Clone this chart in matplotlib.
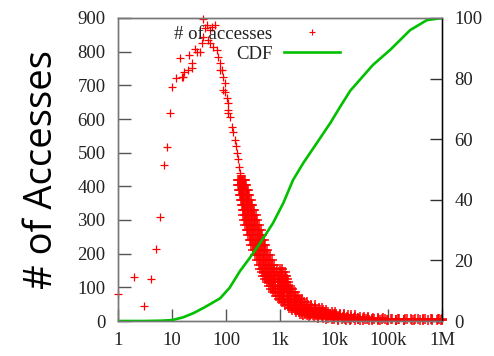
import numpy as np
import matplotlib
matplotlib.use("Agg")
from matplotlib import pyplot as plt
from matplotlib.ticker import LogLocator, FixedLocator, FixedFormatter, NullFormatter

# sparse points (left side and peak)
peak_x = [1, 2, 3, 4, 5, 6, 7, 8, 9, 10, 12, 14, 15, 16, 17, 20, 21, 23, 23,
          27, 29, 33, 36, 37, 37, 40, 44, 46, 50, 50, 55, 58, 62, 68, 71, 77,
          77, 84, 88, 88, 96, 96, 104, 108, 108, 108, 118, 128, 135, 146, 150,
          160, 165, 175, 180, 197, 205]
peak_y = [80, 130, 45, 125, 214, 309, 463, 517, 617, 695, 722, 781, 725, 725,
          740, 745, 790, 766, 751, 808, 800, 800, 825, 843, 897, 870, 880, 835,
          864, 826, 873, 814, 879, 805, 784, 766, 745, 745, 725, 686, 706, 680,
          662, 647, 627, 617, 606, 576, 560, 537, 520, 499, 480, 457, 440, 419,
          395]

# dense band: for each access count, the file sizes seen across the band
band_y = [419, 405, 390, 375, 360, 345, 330, 315, 300, 285, 270, 255, 240,
          225, 210, 195, 180, 167, 155, 145, 135, 125, 115, 105, 95, 85, 75,
          65, 56, 48, 40, 33, 27, 22, 17, 13, 10, 7, 5, 3, 1.5]
band_x = [
    [166, 172, 178, 184, 190, 197, 205, 214, 224],
    [170, 177, 184, 192, 200, 209, 218, 228, 238],
    [176, 183, 191, 200, 209, 219, 230, 242, 252],
    [183, 191, 200, 210, 220, 231, 243, 256, 268],
    [190, 199, 209, 220, 232, 245, 258, 272, 288],
    [197, 207, 218, 231, 245, 259, 274, 290, 308],
    [203, 214, 227, 241, 256, 272, 290, 310, 330],
    [210, 223, 238, 254, 270, 288, 308, 330, 352],
    [218, 232, 248, 266, 285, 305, 327, 350, 376],
    [228, 244, 262, 281, 302, 325, 350, 376, 405],
    [242, 259, 278, 299, 322, 347, 374, 403, 436],
    [258, 276, 297, 320, 344, 371, 400, 432, 468],
    [275, 295, 317, 342, 368, 397, 428, 463, 500],
    [295, 316, 340, 366, 395, 426, 460, 497, 538],
    [318, 341, 367, 395, 426, 460, 497, 537, 580],
    [350, 375, 403, 434, 468, 505, 546, 590, 640],
    [380, 410, 442, 478, 516, 558, 604, 655, 720],
    [410, 443, 479, 518, 560, 606, 656, 715, 790],
    [435, 470, 510, 555, 605, 660, 720, 790, 880, 980, 1080],
    [455, 495, 540, 590, 645, 705, 775, 850, 940, 1040, 1150, 1230],
    [485, 530, 580, 635, 695, 760, 835, 920, 1010, 1110, 1220, 1290],
    [520, 570, 625, 685, 750, 820, 900, 990, 1090, 1200, 1320],
    [570, 625, 685, 750, 820, 900, 985, 1080, 1180, 1290, 1420],
    [625, 685, 750, 820, 900, 985, 1080, 1180, 1300, 1420, 1550],
    [680, 745, 815, 895, 980, 1075, 1180, 1290, 1410, 1540, 1680],
    [750, 820, 900, 990, 1090, 1200, 1320, 1450, 1590, 1750, 1900],
    [830, 910, 1000, 1100, 1210, 1340, 1480, 1630, 1800, 1990, 2200],
    [940, 1030, 1140, 1260, 1390, 1540, 1700, 1880, 2080, 2300, 2600],
    [1080, 1190, 1320, 1460, 1620, 1800, 2000, 2220, 2470, 2750, 3100],
    [1250, 1380, 1530, 1700, 1890, 2100, 2340, 2610, 2920, 3300, 3800, 4400],
    [1450, 1610, 1790, 2000, 2230, 2490, 2790, 3130, 3520, 3980, 4500, 5200,
     6000],
    [1700, 1900, 2130, 2390, 2680, 3010, 3390, 3820, 4310, 4870, 5500, 6300,
     7200],
    [2000, 2250, 2530, 2850, 3220, 3640, 4120, 4670, 5300, 6020, 6850, 7800,
     9000, 10500],
    [2300, 2600, 2950, 3350, 3800, 4330, 4930, 5620, 6420, 7340, 8400, 9600,
     11000, 13000, 15000],
    [2700, 3100, 3550, 4100, 4700, 5400, 6200, 7200, 8300, 9600, 11000, 13000,
     15000, 18000, 21000, 25000],
    [3500, 4200, 5000, 6000, 7200, 8600, 10000, 12000, 14500, 17500, 21000,
     25000, 30000, 36000, 43000],
    [5000, 6200, 7700, 9500, 12000, 15000, 18500, 23000, 28000, 35000, 43000,
     53000, 65000, 80000],
    [7000, 9000, 12000, 16000, 21000, 28000, 37000, 50000, 66000, 88000,
     117000, 155000, 205000, 270000, 360000, 480000, 640000, 850000, 1000000],
    [10000, 14000, 20000, 28000, 40000, 56000, 79000, 112000, 158000, 224000,
     316000, 447000, 631000, 891000],
    [12000, 17000, 25000, 35000, 50000, 70000, 100000, 141000, 200000, 282000,
     398000, 562000, 794000, 1000000],
    [20000, 30000, 45000, 65000, 95000, 140000, 200000, 300000, 440000,
     650000, 950000],
]

# CDF curve (right axis, percent)
cdf_x = [1, 3, 6.3, 10, 16, 25, 40, 78, 117, 182, 275, 427, 741, 1150, 1740,
         2690, 4790, 8510, 12900, 20000, 52500, 110000, 257000, 525000, 1000000]
cdf_y = [0, 0, 0.1, 0.3, 1.2, 2.6, 4.5, 7.5, 11, 16.5, 20.8, 25.7, 32.3, 38.9,
         46.5, 52.1, 58.7, 65.3, 70.6, 76, 84.5, 89.5, 96, 99.3, 100]

x_ticks = [1, 10, 100, 1e3, 1e4, 1e5, 1e6]
x_labels = ["1", "10", "100", "1k", "10k", "100k", "1M"]

dense_x = [v for row in band_x for v in row]
dense_y = [y for y, row in zip(band_y, band_x) for _ in row]

serif = "Liberation Serif"
fs = 13.5

fig = plt.figure(figsize=(4.94, 3.56), dpi=100)
ax = fig.add_axes([118 / 494, 35 / 356, 324 / 494, 303 / 356])
ax2 = ax.twinx()

pts, = ax.plot(peak_x, peak_y, "+", color="#ff0000", ms=5.5, mew=0.9,
               linestyle="none", label="# of accesses", clip_on=False)
ax.plot(dense_x, dense_y, "+", color="#ff0000", ms=7, mew=1.1,
        linestyle="none", clip_on=False)
cdf, = ax2.plot(cdf_x, cdf_y, color="#00c000", lw=1.9, label="CDF")

ax.set_xscale("log")
ax.set_xlim(1, 1e6)
ax.set_ylim(0, 900)
ax2.set_ylim(0, 100)

ax.xaxis.set_major_locator(FixedLocator(x_ticks))
ax.xaxis.set_major_formatter(FixedFormatter(x_labels))
ax.xaxis.set_minor_locator(LogLocator(base=10, subs=[2, 5, 8]))
ax.xaxis.set_minor_formatter(NullFormatter())
ax.set_yticks(range(0, 901, 100))
ax2.set_yticks(range(0, 101, 20))

for a in (ax, ax2):
    for s in a.spines.values():
        s.set_color("#777777")
        s.set_linewidth(1.0)
ax2.spines["right"].set_color("black")

ax.tick_params(axis="both", which="major", direction="in", length=9,
               width=1.0, color="#555555", pad=9, labelsize=fs,
               right=False, top=False)
ax.tick_params(axis="x", which="minor", direction="in", length=4, width=0.8,
               color="#777777", top=False)
ax.tick_params(axis="x", pad=8)
ax2.tick_params(axis="y", direction="in", length=9, width=1.0, color="#333333",
                pad=9, labelsize=fs)
for lab in ax.get_xticklabels() + ax.get_yticklabels() + ax2.get_yticklabels():
    lab.set_family(serif)
    lab.set_color("#222222")

ax.set_ylabel("# of Accesses", family="Open Sans", fontsize=27.5)
ax.yaxis.set_label_coords(-0.175, 0.5)

leg = ax2.legend([pts, cdf], ["# of accesses", "CDF"], markerfirst=False,
                 frameon=False, loc="upper right",
                 bbox_to_anchor=(0.685, 0.975), borderaxespad=0, borderpad=0,
                 handlelength=3.0, handletextpad=0.6, labelspacing=0.15,
                 numpoints=1, prop={"family": serif, "size": fs})
for t in leg.get_texts():
    t.set_color("#222222")
leg.legend_handles[0].set_markersize(5)
leg.legend_handles[0].set_markeredgewidth(0.8)

fig.savefig("out.png", dpi=100)
